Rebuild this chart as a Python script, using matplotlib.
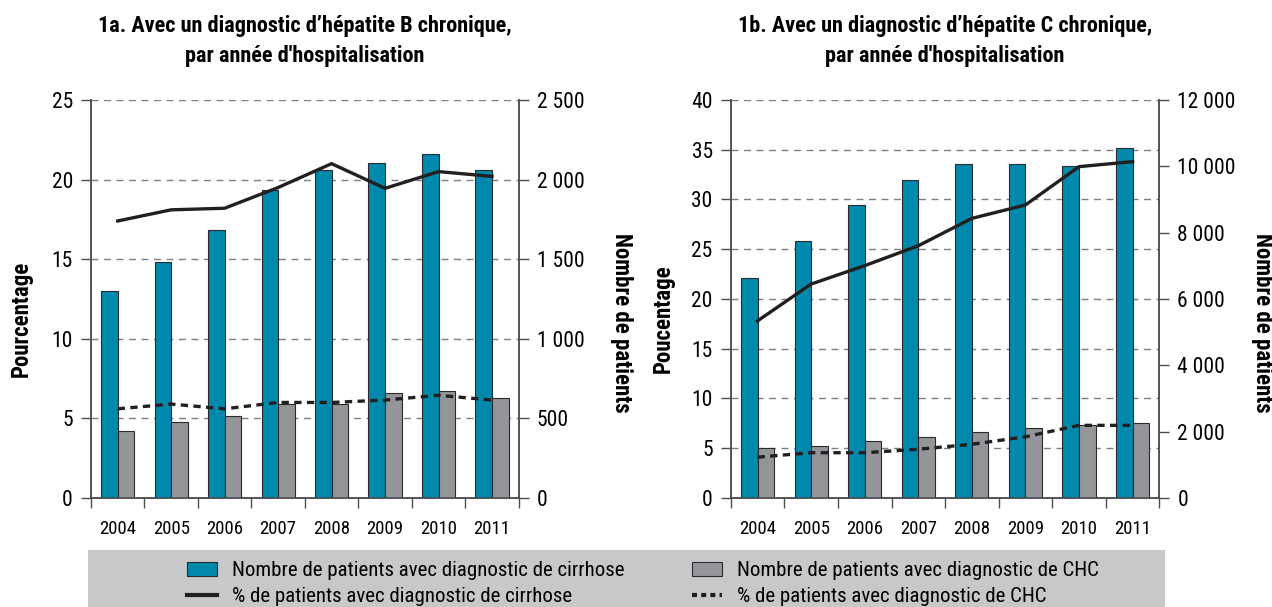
import matplotlib
matplotlib.use("Agg")
import matplotlib.pyplot as plt
from matplotlib.patches import Rectangle
from matplotlib.lines import Line2D
import numpy as np

plt.rcParams['font.family'] = ['Roboto Condensed', 'DejaVu Sans']

annees = ['2004', '2005', '2006', '2007', '2008', '2009', '2010', '2011']

# 1a : hepatite B chronique
b_cirrhose_n = [1300, 1484, 1681, 1935, 2058, 2102, 2159, 2060]
b_chc_n = [419, 475, 517, 588, 588, 657, 670, 630]
b_cirrhose_pct = [17.4, 18.1, 18.2, 19.5, 21.0, 19.45, 20.5, 20.2]
b_chc_pct = [5.6, 5.9, 5.6, 6.0, 6.0, 6.15, 6.45, 6.15]

# 1b : hepatite C chronique
c_cirrhose_n = [6640, 7740, 8840, 9600, 10080, 10080, 10000, 10560]
c_chc_n = [1500, 1570, 1710, 1850, 1980, 2120, 2190, 2260]
c_cirrhose_pct = [17.8, 21.5, 23.35, 25.35, 28.1, 29.45, 33.3, 33.8]
c_chc_pct = [4.1, 4.55, 4.55, 4.9, 5.4, 6.15, 7.3, 7.3]

bleu = '#0089ad'
gris = '#939598'
noir = '#231f20'
spine_col = '#4d4d4f'


def fmt_milliers(v):
    return '{:,}'.format(int(v)).replace(',', ' ')


def panneau(rect, titre, ylabel_g, xlab_g, n1, n2, p1, p2, pmax, pstep, nmax, nstep):
    ax = fig.add_axes(rect)
    ax2 = ax.twinx()
    ax3 = ax.twinx()
    x = np.arange(len(annees))
    w = 0.31

    # barres (axe de droite)
    ax2.bar(x - w / 2, n1, w, color=bleu, edgecolor='#2a2a2a', linewidth=0.8)
    ax2.bar(x + w / 2, n2, w, color=gris, edgecolor='#2a2a2a', linewidth=0.8)
    ax2.set_ylim(0, nmax)
    ax2.set_yticks(np.arange(0, nmax + 1, nstep))
    ax2.set_yticklabels([fmt_milliers(v) for v in np.arange(0, nmax + 1, nstep)])

    # courbes (axe de gauche)
    ax3.plot(x, p1, color=noir, lw=2.4, solid_joinstyle='miter')
    ax3.plot(x, p2, color=noir, lw=2.4, ls=(0, (2.2, 1.6)))
    ax3.set_ylim(0, pmax)
    ax3.axis('off')

    ax.set_ylim(0, pmax)
    ax.set_yticks(np.arange(0, pmax + 1, pstep))
    ax.grid(axis='y', color='#7f7f7f', ls=(0, (5, 4)), lw=1.0)
    ax.set_axisbelow(True)

    for a in (ax, ax2, ax3):
        a.set_xlim(-0.5, len(annees) - 0.5)

    # graduations x aux limites des categories, libelles au centre
    ax.set_xticks(np.arange(-0.5, len(annees), 1.0))
    ax.set_xticklabels([])
    ax.set_xticks(x, minor=True)
    ax.set_xticklabels(annees, minor=True, fontsize=13.5)
    ax.tick_params(axis='x', which='major', length=7, width=1, color=spine_col, direction='out')
    ax.tick_params(axis='x', which='minor', length=0, pad=16)
    ax.tick_params(axis='y', length=7, width=1, color=spine_col, labelsize=15.5, pad=6)
    ax2.tick_params(axis='y', length=7, width=1, color=spine_col, labelsize=15.5, pad=6)

    for a in (ax, ax2):
        a.spines['top'].set_visible(False)
        for s in ('left', 'right', 'bottom'):
            a.spines[s].set_color(spine_col)
            a.spines[s].set_linewidth(1.1)

    ax.set_ylabel(ylabel_g, fontsize=16.5, fontweight='bold')
    ax.yaxis.set_label_coords(xlab_g, 0.45)
    ax2.set_ylabel('Nombre de patients', fontsize=16.5, fontweight='bold', rotation=270, va='center')
    ax2.yaxis.set_label_coords(1.24, 0.44)

    ax.set_title(titre, fontsize=16, fontweight='bold', pad=27.5, linespacing=1.47)
    return ax


fig = plt.figure(figsize=(12.72, 6.07), dpi=100)

panneau([0.0715, 0.1796, 0.3363, 0.6557],
        "1a. Avec un diagnostic d\u2019hépatite B chronique,\npar année d'hospitalisation",
        'Pourcentage', -0.136, b_cirrhose_n, b_chc_n, b_cirrhose_pct, b_chc_pct,
        25, 5, 2500, 500)
panneau([0.5745, 0.1796, 0.3370, 0.6557],
        "1b. Avec un diagnostic d\u2019hépatite C chronique,\npar année d'hospitalisation",
        'Poucentage', -0.13, c_cirrhose_n, c_chc_n, c_cirrhose_pct, c_chc_pct,
        40, 5, 12000, 2000)

# bandeau de legende
fig.patches.append(Rectangle((88 / 1272, 0), (1165 - 88) / 1272, 57 / 607,
                             transform=fig.transFigure, facecolor='#c8c8ca',
                             edgecolor='none', zorder=0))

handles = [
    Rectangle((0, 0), 1, 1, facecolor=bleu, edgecolor='#2a2a2a', lw=0.8),
    Line2D([], [], color=noir, lw=3),
    Rectangle((0, 0), 1, 1, facecolor=gris, edgecolor='#2a2a2a', lw=0.8),
    Line2D([], [], color=noir, lw=3, ls=(0, (1.2, 1.0))),
]
labels = [
    'Nombre de patients avec diagnostic de cirrhose',
    '% de patients avec diagnostic de cirrhose',
    'Nombre de patients avec diagnostic de CHC',
    '% de patients avec diagnostic de CHC',
]
fig.legend(handles, labels, ncol=2, loc='center', bbox_to_anchor=(643 / 1272, 23.5 / 607),
           frameon=False, fontsize=15, handlelength=1.45, handleheight=0.7,
           columnspacing=3.2, labelspacing=0.32, handletextpad=0.72)

fig.savefig('out.png', dpi=100)
